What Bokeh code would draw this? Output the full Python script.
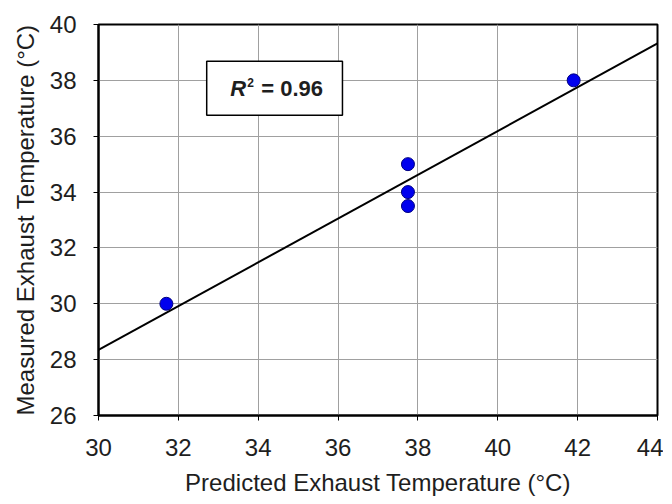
from bokeh.plotting import figure
from bokeh.models import Range1d, FixedTicker, BoxAnnotation, Label
from bokeh.embed import file_html
from bokeh.resources import INLINE

# data
predicted = [31.7, 37.75, 37.75, 37.75, 41.9]
measured = [30.0, 35.0, 34.0, 33.5, 38.0]
fit_x = [30.0, 44.0]
fit_y = [28.35, 39.32]
x_ticks = [30, 32, 34, 36, 38, 40, 42, 44]
y_ticks = [26, 28, 30, 32, 34, 36, 38, 40]
r2_text = "0.96"

FONT = "Liberation Sans"
TXT = "#1e1e1e"

p = figure(width=663, height=496, output_backend="svg", toolbar_location=None,
           x_range=Range1d(30, 44), y_range=Range1d(26, 40),
           min_border_left=98, min_border_right=6, min_border_top=24, min_border_bottom=81)
p.frame_width = 559
p.frame_height = 391

p.background_fill_color = "white"
p.border_fill_color = "white"
p.outline_line_color = "black"
p.outline_line_width = 2

for ax, ticks in ((p.xaxis[0], x_ticks), (p.yaxis[0], y_ticks)):
    ax.ticker = FixedTicker(ticks=ticks)
    ax.minor_tick_line_color = None
    ax.major_tick_out = 5
    ax.major_tick_in = 0
    ax.major_tick_line_color = "black"
    ax.axis_line_color = "black"
    ax.axis_line_width = 2
    ax.major_label_text_font = FONT
    ax.major_label_text_font_size = "24px"
    ax.major_label_text_color = TXT
    ax.axis_label_text_font = FONT
    ax.axis_label_text_font_size = "24px"
    ax.axis_label_text_font_style = "normal"
    ax.axis_label_text_color = TXT

p.xaxis.axis_label = "Predicted Exhaust Temperature (°C)"
p.yaxis.axis_label = "Measured Exhaust Temperature (°C)"
p.xaxis.major_label_standoff = 18
p.xaxis.axis_label_standoff = 10
p.yaxis.major_label_standoff = 17
p.yaxis.axis_label_standoff = 8

p.grid.grid_line_color = "#a0a0a0"
p.grid.grid_line_width = 1
p.xgrid.ticker = FixedTicker(ticks=x_ticks)
p.ygrid.ticker = FixedTicker(ticks=y_ticks)

p.line(fit_x, fit_y, line_color="black", line_width=2)
p.scatter(predicted, measured, size=13, fill_color="#0000ee", line_color="#000080", line_width=1)

box = BoxAnnotation(left=32.71, right=36.11, top=38.68, bottom=36.75,
                    fill_color="white", fill_alpha=1.0, line_color="black", line_alpha=1.0,
                    line_width=1.5, level="overlay")
p.add_layout(box)
p.add_layout(Label(x=33.3, y=37.71, text="R", text_font=FONT, text_font_size="22px",
                   text_font_style="bold italic", text_baseline="middle", text_color=TXT,
                   level="overlay"))
p.add_layout(Label(x=33.3, y=37.71, x_offset=17, y_offset=6, text="2", text_font=FONT,
                   text_font_size="12px", text_font_style="bold", text_baseline="middle",
                   text_color=TXT, level="overlay"))
p.add_layout(Label(x=33.3, y=37.71, x_offset=31, text="= " + r2_text, text_font=FONT,
                   text_font_size="22px", text_font_style="bold", text_baseline="middle",
                   text_color=TXT, level="overlay"))

open("out.html", "w").write(file_html(p, INLINE))
